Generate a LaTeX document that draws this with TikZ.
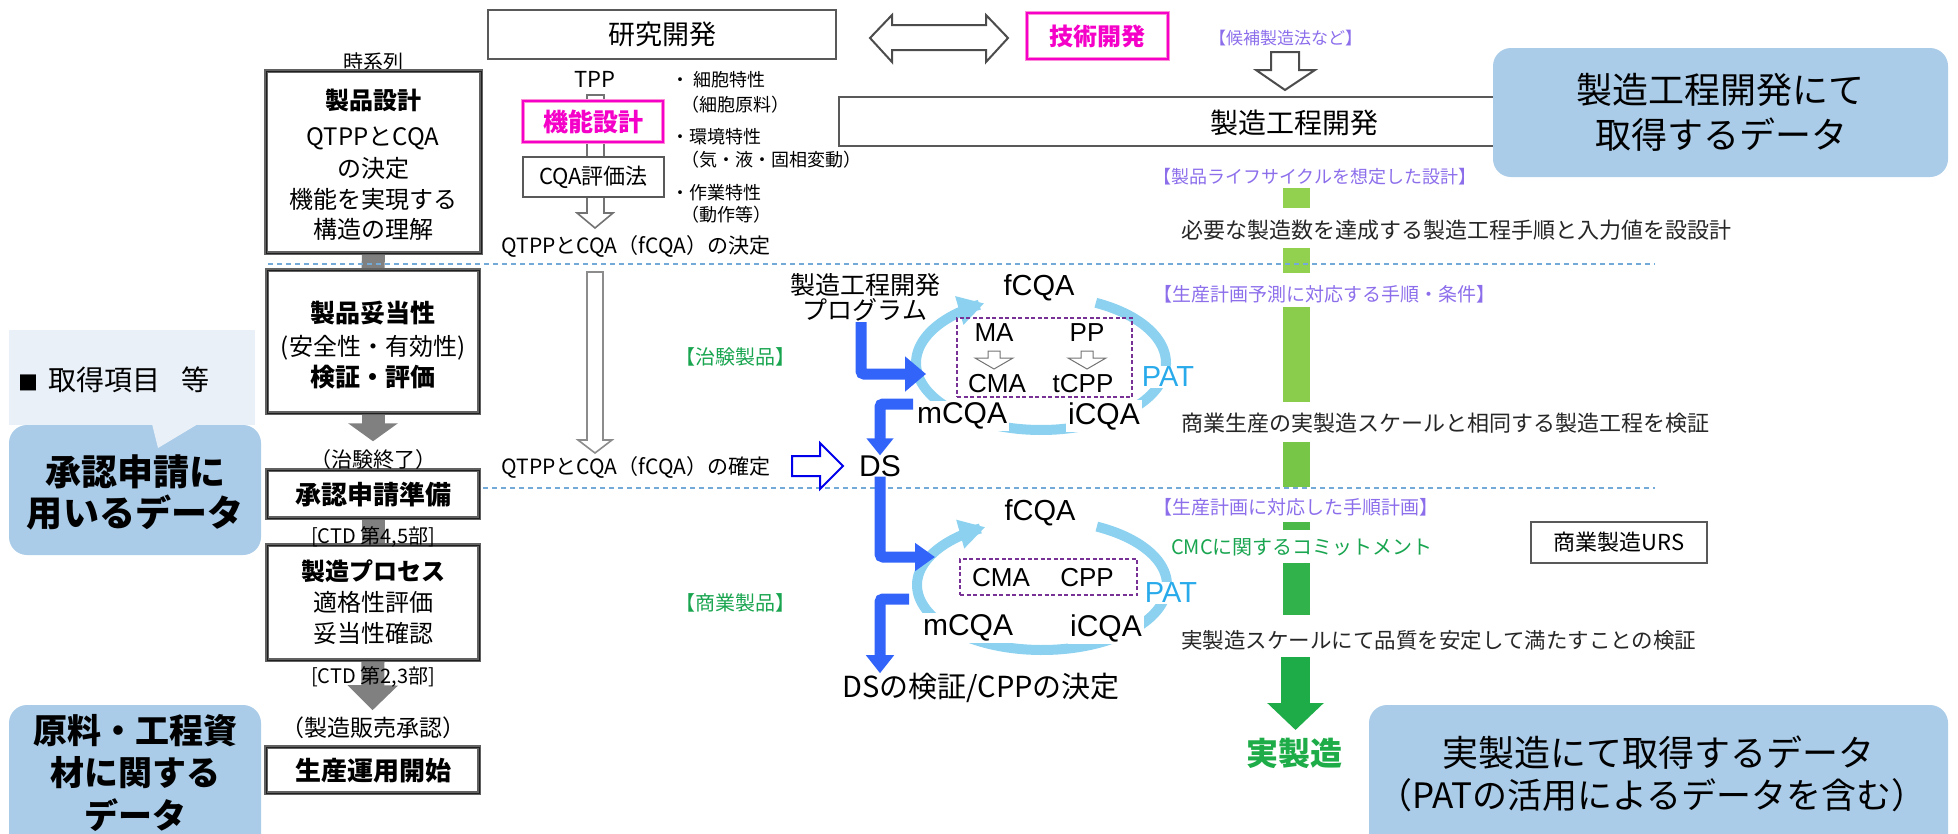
\documentclass[tikz,border=0pt]{standalone}
\usepackage{fontspec}
\setmainfont{Noto Sans CJK JP}
\newfontfamily\lat{Liberation Sans}
\usetikzlibrary{arrows.meta,calc}
\definecolor{bubc}{RGB}{170,204,232}
\definecolor{lbg}{RGB}{233,240,247}
\definecolor{dashc}{RGB}{115,170,215}
\definecolor{ringc}{RGB}{140,210,240}
\definecolor{blu}{RGB}{50,100,250}
\definecolor{hblu}{RGB}{0,0,235}
\definecolor{mag}{RGB}{245,0,200}
\definecolor{pnk}{RGB}{255,140,215}
\definecolor{pur}{RGB}{140,110,235}
\definecolor{grn}{RGB}{25,165,80}
\definecolor{patc}{RGB}{40,170,235}
\definecolor{cgray}{RGB}{128,128,128}
\definecolor{dpur}{RGB}{120,50,150}
\definecolor{gA}{RGB}{146,208,80}
\definecolor{gB}{RGB}{138,204,76}
\definecolor{gC}{RGB}{120,198,72}
\definecolor{gD}{RGB}{75,185,72}
\definecolor{gE}{RGB}{50,178,74}
\definecolor{gF}{RGB}{30,172,72}
\newcommand\F[1]{\fontsize{#1pt}{#1pt}\selectfont}
\tikzset{
  tx/.style={inner sep=0pt, outer sep=0pt, font=\F{#1}},
  txb/.style={inner sep=0pt, outer sep=0pt, font=\F{#1}\bfseries},
  lt/.style={inner sep=0pt, outer sep=0pt, font=\F{#1}\lat},
  lbox/.style={draw=black!62, line width=3.5pt, fill=white, inner sep=0pt, postaction={draw=black!88, line width=0.9pt}},
  pbox/.style={draw=pnk, line width=4.5pt, fill=white, inner sep=0pt, postaction={draw=mag, line width=1.3pt}},
  gbox/.style={draw=black!65, line width=1.8pt, fill=white, inner sep=0pt},
  bub/.style={fill=bubc, rounded corners=18pt, inner sep=0pt},
  dbox/.style={draw=dpur, line width=1.4pt, dash pattern=on 4pt off 2.5pt, inner sep=0pt},
  gconn/.style={draw=cgray, line width=23pt},
  bl/.style={draw=blu, line width=11pt, rounded corners=3pt},
  hol/.style={draw=black!55, line width=1.6pt, fill=white, line join=miter},
  dl/.style={draw=dashc, line width=1.8pt, dash pattern=on 5pt off 4pt},
  wt/.style={fill=white, inner sep=2pt},
  ringarc/.style={draw=ringc, line width=10pt, -{Triangle[length=26pt,width=28pt]}},
  purl/.style={inner sep=0pt, font=\F{#1}, text=pur, anchor=west},
  grl/.style={inner sep=0pt, font=\F{#1}, text=black!85, anchor=west}
}
\begin{document}
\begin{tikzpicture}[x=1pt,y=-1pt]
\useasboundingbox (0,0) rectangle (1958,833);

% ---------- left side callouts ----------
\node[fill=lbg, minimum width=246pt, minimum height=95pt, inner sep=0pt] (lb) at (132,377.5) {};
\node[tx=28, anchor=west] (lbt) at (18,380) {{\F{20}■}\hspace{10pt}取得項目\hspace{22pt}等};
\node[bub, minimum width=252pt, minimum height=130pt] (bl1) at (135,490) {};
\fill[lbg] (152,424) -- (198,424) -- (158,448) -- cycle;
\node[txb=36] (bl1a) at (135,472) {承認申請に};
\node[txb=36] (bl1b) at (135,513) {用いるデータ};
\node[bub, minimum width=252pt, minimum height=160pt] (bl2) at (135,785) {};
\node[txb=34] (bl2a) at (135,731) {原料・工程資};
\node[txb=34] (bl2b) at (135,773) {材に関する};
\node[txb=34] (bl2c) at (135,815) {データ};

% ---------- left column ----------
\node[tx=20] (jikei) at (373,62) {時系列};
\node[lbox, minimum width=215pt, minimum height=182pt] (b1) at (373.5,162) {};
\node[lbox, minimum width=212pt, minimum height=143pt] (b2) at (373,341.5) {};
\node[lbox, minimum width=212pt, minimum height=48pt] (b3) at (373,494) {};
\node[lbox, minimum width=212pt, minimum height=115pt] (b4) at (373,602.5) {};
\node[lbox, minimum width=213pt, minimum height=46pt] (b5) at (372.5,770) {};
\draw[gconn] (b1.south) -- (b2.north);
\draw[gconn, -{Triangle[length=18pt,width=49pt]}] (b2.south) -- ($(b3.north)+(0,-27)$);
\draw[gconn] (b3.south) -- (b4.north);
\draw[gconn, -{Triangle[length=25pt,width=49pt]}] (b4.south) -- ($(b5.north)+(0,-35)$);
% redraw boxes' frames over connectors
\node[lbox, fill=none, minimum width=215pt, minimum height=182pt] (b1f) at (373.5,162) {};
\node[lbox, fill=none, minimum width=212pt, minimum height=143pt] (b2f) at (373,341.5) {};
\node[lbox, fill=none, minimum width=212pt, minimum height=48pt] (b3f) at (373,494) {};
\node[lbox, fill=none, minimum width=212pt, minimum height=115pt] (b4f) at (373,602.5) {};

\node[txb=24] (t11) at (373,100) {製品設計};
\node[tx=24] (t12) at (373,138) {QTPPとCQA};
\node[tx=24] (t13) at (373,168) {の決定};
\node[tx=24] (t14) at (373,199) {機能を実現する};
\node[tx=24] (t15) at (373,229) {構造の理解};
\node[txb=25] (t21) at (373,313) {製品妥当性};
\node[tx=24] (t22) at (373,348) {(安全性・有効性)};
\node[txb=25] (t23) at (373,377) {検証・評価};
\node[tx=21] (t3a) at (373,460) {（治験終了）};
\node[txb=26] (t31) at (373,495) {承認申請準備};
\node[tx=20] (t3b) at (373,537) {[CTD 第4,5部]};
\node[txb=24] (t41) at (373,571) {製造プロセス};
\node[tx=24] (t42) at (373,602) {適格性評価};
\node[tx=24] (t43) at (373,633) {妥当性確認};
\node[tx=20] (t4b) at (373,677) {[CTD 第2,3部]};
\node[tx=23] (t4c) at (373,728) {（製造販売承認）};
\node[txb=26] (t51) at (373,771) {生産運用開始};

% ---------- top row ----------
\node[gbox, line width=2pt, minimum width=348pt, minimum height=49pt, font=\F{27}] (ken) at (662,34.5) {研究開発};
\filldraw[hol, draw=black!70, line width=2pt] (870,38) -- (892,15) -- (892,25) -- (986,25) -- (986,15) -- (1008,38) -- (986,62) -- (986,50) -- (892,50) -- (892,62) -- cycle;
\node[pbox, minimum width=141pt, minimum height=46pt, font=\F{24}\bfseries, text=mag] (gij) at (1097.5,36) {技術開発};
\node[purl=17] (kouho) at (1209,38) {【候補製造法など】};
\filldraw[hol, draw=black!70, line width=2pt] (1271,52) -- (1299,52) -- (1299,70) -- (1315,70) -- (1285,90) -- (1256,70) -- (1271,70) -- cycle;
\node[gbox, line width=2pt, minimum width=681pt, minimum height=49pt] (sz) at (1179.5,121.5) {};
\node[tx=28] (szt) at (1294,123) {製造工程開発};

% ---------- research column ----------
\node[tx=22] (tpp) at (595,79) {TPP};
\filldraw[hol] (587,95) -- (604,95) -- (604,213) -- (613,213) -- (595,228) -- (577,213) -- (587,213) -- cycle;
\node[pbox, minimum width=140pt, minimum height=41pt, font=\F{25}\bfseries, text=mag] (kin) at (593,121.5) {機能設計};
\node[gbox, minimum width=141pt, minimum height=40pt, font=\F{22}] (cqa) at (593.5,177) {CQA評価法};
\node[tx=18, anchor=west] (c1) at (671,80) {・ 細胞特性};
\node[tx=18, anchor=west] (c2) at (681,105) {（細胞原料）};
\node[tx=18, anchor=west] (c3) at (671,137) {・環境特性};
\node[tx=18, anchor=west] (c4) at (681,160) {（気・液・固相変動）};
\node[tx=18, anchor=west] (c5) at (671,193) {・作業特性};
\node[tx=18, anchor=west] (c6) at (681,215) {（動作等）};
\node[tx=21] (kettei) at (636,246) {QTPPとCQA（fCQA）の決定};

% dashed separators
\coordinate (d1a) at (268,264); \coordinate (d1b) at (1655,264);
\coordinate (d2a) at (483,488); \coordinate (d2b) at (1655,488);

% ---------- green progress bar ----------
\fill[gA] (1283,188) rectangle (1310,208);
\fill[gA] (1283,248) rectangle (1310,273);
\fill[gB] (1283,307) rectangle (1310,402);
\fill[gC] (1283,442) rectangle (1310,487);
\fill[gD] (1283,522) rectangle (1310,530);
\fill[gE] (1283,563) rectangle (1310,615);
\coordinate (gs) at (1295.5,657);
\coordinate (ge) at (1295.5,730);
\draw[draw=gF, line width=29pt, -{Triangle[length=27pt,width=55pt]}] (gs) -- (ge);
\node[txb=32, text=gF] (jitsu) at (1294,753) {実製造};

\draw[dl] (d1a) -- (d1b);
\draw[dl] (d2a) -- (d2b);

\node[purl=18] (p1) at (1153,177) {【製品ライフサイクルを想定した設計】};
\node[grl=22] (r1) at (1181,230) {必要な製造数を達成する製造工程手順と入力値を設設計};
\node[purl=19] (p2) at (1153,294) {【生産計画予測に対応する手順・条件】};
\node[grl=22] (r2) at (1181,423) {商業生産の実製造スケールと相同する製造工程を検証};
\node[purl=19] (p3) at (1153,507) {【生産計画に対応した手順計画】};
\node[inner sep=0pt, font=\F{20}, text=grn, anchor=west] (cmc) at (1171,547) {CMCに関するコミットメント};
\node[gbox, minimum width=176pt, minimum height=41pt, font=\F{22}] (urs) at (1619,542.5) {商業製造URS};
\node[grl=21.5] (r3) at (1181,640) {実製造スケールにて品質を安定して満たすことの検証};

% ---------- middle: trial product cycle ----------
\filldraw[hol, draw=black!45] (587,272) -- (603,272) -- (603,440) -- (612,440) -- (595,453) -- (578,440) -- (587,440) -- cycle;
\node[tx=25, align=center] (prog) at (865,297) {製造工程開発\\プログラム};
\node[inner sep=0pt, font=\F{20}, text=grn] (chiken) at (735,357) {【治験製品】};
\draw[ringarc] plot[domain=-64:243, samples=120] ({1041+125*cos(\x)},{363+67*sin(\x)});
\node[lt=29] (f1) at (1039,288) {fCQA};
\node[lt=30, wt] (m1) at (962,416) {mCQA};
\node[lt=30, wt] (i1) at (1104,416) {iCQA};
\node[lt=29, wt, text=patc, inner sep=1pt] (pat1) at (1168,377) {PAT};
\node[dbox, minimum width=175pt, minimum height=79pt] (db1) at (1044.5,357.5) {};
\node[lt=26] (ma) at (994,333) {MA};
\node[lt=26] (pp) at (1087,333) {PP};
\node[lt=26] (cma) at (997,384) {CMA};
\node[lt=26] (tcpp) at (1083,384) {tCPP};
\foreach \cx in {994,1087}{
  \filldraw[draw=black!55, fill=white, line width=1pt] (\cx-6,351) -- (\cx+6,351) -- (\cx+6,358) -- (\cx+19,358) -- (\cx,369) -- (\cx-19,358) -- (\cx-6,358) -- cycle;
}
\coordinate (L1s) at (861,322);
\coordinate (L1e) at (926,374);
\draw[bl, -{Triangle[length=21pt,width=34pt]}] (L1s) |- (L1e);
\coordinate (L2s) at (913,404);
\node[lt=30] (ds) at (880,466) {DS};
\draw[bl, -{Triangle[length=17pt,width=26pt]}] (L2s) -| (ds.north);

\node[tx=21] (kakutei) at (636,467) {QTPPとCQA（fCQA）の確定};
\filldraw[draw=hblu, fill=white, line width=2pt, line join=miter] (792,456) -- (820,456) -- (820,443) -- (843,466) -- (820,489) -- (820,476) -- (792,476) -- cycle;

% ---------- lower: commercial product cycle ----------
\node[inner sep=0pt, font=\F{20}, text=grn] (shogyo) at (735,603) {【商業製品】};
\draw[ringarc] plot[domain=-64:243, samples=120] ({1042+125*cos(\x)},{585+65*sin(\x)});
\node[lt=29] (f2) at (1040,513) {fCQA};
\node[lt=30, wt] (m2) at (968,628) {mCQA};
\node[lt=30, wt] (i2) at (1106,628) {iCQA};
\node[lt=29, wt, text=patc, inner sep=1pt] (pat2) at (1171,593) {PAT};
\node[dbox, minimum width=177pt, minimum height=36pt] (db2) at (1048.5,577) {};
\node[lt=26] (cma2) at (1001,578) {CMA};
\node[lt=26] (cpp) at (1087,578) {CPP};
\coordinate (L3e) at (935,557);
\draw[bl, -{Triangle[length=20pt,width=27pt]}] (ds.south) |- (L3e);
\coordinate (L4s) at (909,599);
\node[tx=29] (dsk) at (981,688) {DSの検証/CPPの決定};
\draw[bl, -{Triangle[length=18pt,width=27pt]}] (L4s) -| (dsk.north -| ds.south);

% ---------- right callouts ----------
\node[bub, minimum width=455pt, minimum height=129pt] (br1) at (1720.5,112.5) {};
\node[tx=36] (br1a) at (1720,90) {製造工程開発にて};
\node[tx=36] (br1b) at (1721,135) {取得するデータ};
\node[bub, minimum width=579pt, minimum height=150pt] (br2) at (1658.5,780) {};
\node[tx=36] (br2a) at (1658,753) {実製造にて取得するデータ};
\node[tx=35] (br2b) at (1652,795) {（PATの活用によるデータを含む）};
\end{tikzpicture}
\end{document}
